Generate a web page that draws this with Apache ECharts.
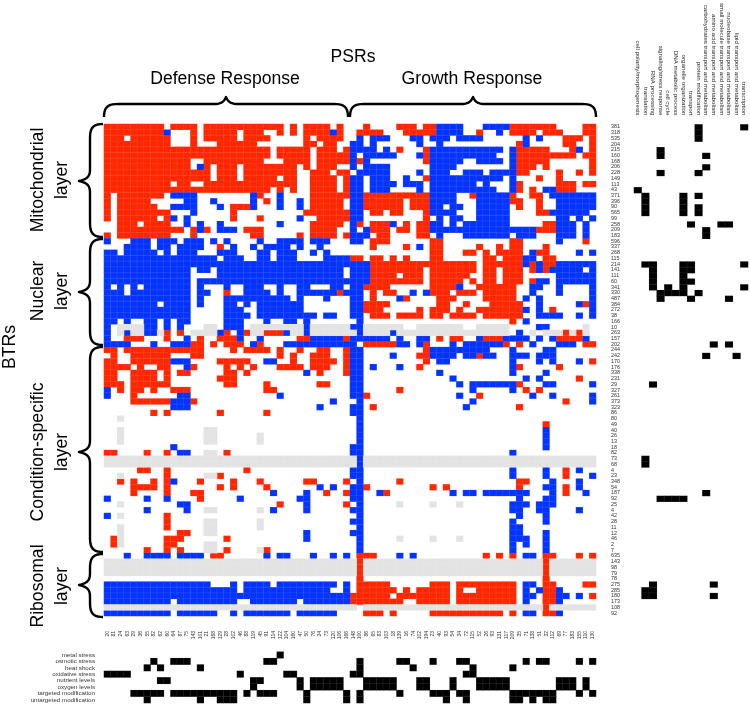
<!DOCTYPE html>
<html><head><meta charset="utf-8">
<style>html,body{margin:0;padding:0;background:#fff}#c{width:750px;height:705px}</style>
<script src="https://cdn.jsdelivr.net/npm/echarts@6/dist/echarts.min.js"></script></head>
<body><div id="c"></div>
<script>
const colLabels=["20","81","24","63","29","36","55","82","62","60","64","87","75","143","101","21","168","129","28","102","46","88","119","45","91","114","122","104","160","47","50","76","34","73","120","106","166","148",
"100","86","65","83","103","18","139","16","74","102","194","23","40","93","54","34","72","115","52","26","93","131","117","209","35","71","138","51","32","112","69","77","183","155","110","130"];
const rowLabels=["381","318","535","204","215","160","168","206","228","149","113","43","371","396","90","565","99","258","209","183","596","337","268","115","214","141","111","60","341","330","487","384","272","38","166","10","263","157","202","244","242","170","176","338","231","29","327","261","373","323","86","80","49","40","26","13","18","82","73","68","4","23","348","54","187","92","25","4","42","28","11","12","46","2","7","635","143","98","79","78","275","285","180","173","108","92"];
const stressLabels=["metal stress","osmotic stress","heat shock","oxidative stress","nutrient levels","oxygen levels","targeted modification","untargeted modification"];
const funcLabels=["cell polarity/morphogenesis","translation","RNA processing","signaling/stress response","cell cycle","DNA metabolic process","organelle organization","transport","protein modification","carbohydrates transport and metabolism","amino acid transport and metabolism","small molecule transport and metabolism","nucleobase transport and metabolism","lipid transport and metabolism","transcription"];
// main matrix, one string per row: R = red, B = blue, G = grey, then column index ranges
const mainRows=[
"R0-8 R10-13 R15-26 R28 R30-33 R35 R39 R44-46 R48-49 B50-53 B57-60 R61-67 R72-73",
"R0-8 B9 R13 R15-19 R21-23 R26 R28 R30-33 B34 R35 R38-41 R45-49 B50-53 R56 B59 R61-64 R66-68 R72-73",
"R0-2 R4-9 R13 R15-19 R21-24 R30 R32-35 B38 B40-42 B46-47 B49-51 B53-56 B63 B65 R69-71 R73",
"R0-9 R13 R17-22 R30-31 R33-34 B37-38 B40 B47 B50 R62 B63 R69-70 R73",
"R0-24 R26-30 R32-34 R36 B37-40 B42 R44 R48 B49-59 B61 R62-66 R70 B71 R73",
"R0-24 R26-30 R32-36 B37 B39-43 B47 R48 B49-58 B61 R62-70 R72-73",
"R0-12 R15-23 R27-30 R32-36 B37 R38 B39 R48 B49-53 B56-59 B61 R62-66 R73",
"R0-12 B14 R15 R17-19 R21-28 R30 R32-34 B37 B39-42 B49-52 B61 R62-64 R66 R73",
"R0-15 R17-19 R21-28 R31-33 R35-36 B38-42 B47 B49-51 B54-56 B58-61 R62-63 R68 R71 R73",
"R0-15 R17-19 R21-25 R27-28 R31-34 R36 B37-38 B40-42 B45 R48 B49-59 B61 R65 R68",
"R0-9 R11-12 R15-28 R31-34 R36 B37-38 B40-43 B45-47 B49-55 B57 B61 R62 R68-70 R72-73",
"R0-24 R26 R28 R31-34 R36 B37-38 B40-42 B47 B49-58 B61 R62 R64 B66-67 R68-70",
"R0 R2-8 B10-13 B22 R23 B26 R31-36 B37-38 R39-48 B49-52 R55 B56-60 R61 R64-65 B67-73",
"R0 R2-6 B12-13 B16 B22 R24 B26 B29 R31-35 B37-38 R39-44 R46-48 B49-52 B56-60 R61-62 R65 B68-73",
"R0 R2-7 B10-13 B17 R19-21 B22 B26 B29 R31-35 B37-38 R39-44 R46-48 B49-50 B52-53 B56-60 R62 R65 B68-73",
"R0 R2-9 B13 R19 R30-36 B37-38 R40-41 R43-44 R48 B49-52 B56-60 R65-66 B67-72",
"R0 R2-7 R9 B10 B12 R19 R23 B29 R32-36 B37-38 R48 B50 B52-53 B56-60 B68-69 B71 B73",
"R2-4 R6-9 B12 B14 B17 B26 R31-35 B37 R38 R40-42 B43 R45 R47-48 B49-50 B52 B54-60 R66-67 B68-70 B72",
"R2-11 R13 B14 R15 B17-19 R21-23 R31-34 B37 B39 R40-42 R44-45 R47-48 B49-64 R65-67 B68-70 B72",
"R0 R2-9 R13 R22-23 R29 R31-34 R36 B37-39 R41-42 R47-48 B50 B54-60 B62-64 B68-70 B72",
"B0 B4-6 B8-10 B12-14 B16 B18 B23 B26-29 B31-33 B37-38 R40-42 R49-50 R61-62 B68 R72",
"B3-6 B8-9 B11-14 R17 B19 B22 B24-27 B29 B32 R40 R45 B47 R49-50 R56 R59 R61-62 R66",
"B0-1 B3-7 B9 B11-13 B17-19 B23-24 B26-28 B31 B33 R49-50 R54-55 R57 R59-62 B64 R65-66 B71 B73",
"B0-16 B18-20 B23-24 B26-28 B33-36 R37-38 R40-41 R43 R45 R49-50 R57-58 R60-62 B63-64 R66-67",
"B0-39 R40-55 R57-62 B63 R64 B65 R66-67 B68-73",
"B0-12 B14-15 B17-35 B37-39 R40-47 R49-55 R57-58 R60-62 R64 B65 R66 B67-71 B73",
"B0-12 B17-35 B37-39 R40-43 R45-47 R49-54 R57-58 R60-62 B68-73",
"B0-12 B14-39 R40-47 R49-53 R55 R57-58 R60-62 R64 B65-66 B68-73",
"B0 B2 B4 B6-12 B14 B18 B21-23 B26 B29-30 B34-35 B37-38 R39-42 R49-52 B53 R56-61 B64-65 B68 B73",
"B0-2 B4-12 B14-15 R18 B21-24 B26 B29-34 R35 B36-38 R40 R42-43 B46 B48 R49-51 R53-55 R57-61 B64 B68 B73",
"B0-12 B14 B18-27 B29 B33 B37-38 R40 B44 R45 R50-52 R57-61 B63 B65 B73",
"B0-7 B9-12 B14 B18-19 B21 B23-29 B37-38 R39-42 R50-51 R54 R58-62 B65 B71 R72 B73",
"B0-12 B18-20 B23-29 B37-38 R39-41 R47 R49-51 R53 R56-62 B63 B65 R67 B73",
"B0-12 B18-21 B23-31 B33-34 B37-38 R40-42 R44-47 R49-50 R52-55 R57-62 B65-68 B71 B73",
"B0-1 B3 B6-7 B9 B11-12 B18-20 B24 B27-28 B30 B38 R61 B63",
"B0 G2-5 B6-7 B9 B11 G15-16 B18-20 G22-29 B30 G31-36 B37-38 G39-44 G47-53 G56-60 B65-66 G72",
"B0 G2 B3 G4-5 B6-7 G8 R9 R11 G13-16 B17 R18 B20 R21 G22-23 R24-26 B27 G28-29 B30 G31-37 B38 G39-42 B43 G44-60 B62 G64 G66-68 R69 G70 R71 G72",
"B0 R3-5 R9 B12 R14 R17-19 B20 B23 R29-30 B31-35 R36 B37-42 B44 B47-48 R50 R52-53 B56 R57-59 B60-63 B65 B67 R68-71 B72",
"B0-3 B7 B10-12 R13-14 R16 R18-20 B22 R23 B27-29 B30-37 R39-43 B44-45 B47 R48 B52 B54-59 R60 R62 B64 B68-70 R72-73",
"R0-1 R3-14 R19 R21-24 R26 R29 R32-33 R36 B37-38 R48 B49-57 B61 B66-67",
"R1 R4-9 R13-14 R26 R28 R31-33 R36 B37-38 B43 R47-48 B49-52 B54-55 R56 B57-58 B61-63 B65-67",
"R0-1 R4-9 B10-12 R17-21 B24-25 R28 R31-34 R36 B37-38 R48 B50-51 B61 B65 B67 B71 R73",
"R0-3 R5 R8-9 B12 R13 R18 R20 R22 R26-29 R31-33 R36 B37-38 B40 B44 R47 B61 R62 R68",
"R0-1 R4-7 R9 R11-12 R18-19 R21 B30 R32 R36 B37-38 B50 B61 B66",
"R0-1 R4-7 R9 R17-19 B37-38 B52 B63 B65 R71",
"R0-2 R4-9 R18-19 R24 R32-33 B37-38 B53 B55-61 R62 B66-67 B73",
"B0 R2 R4-5 R7 R10-12 R24-25 B37-38 R44 B55 B61 R63 R65",
"B0 R4 B11-12 B26 B37-38 R39 B53 R56 B64 B67 B73",
"R4-9 B10-12 R13 B34 B38 B55 R69 B73",
"B10-12 B32 B37-38 R40 B54 R62",
"R7 R9 R17 R24 B37-38",
"G2 B38",
"B38 R66",
"G2 G15-16 B38 B66",
"G2 G15-16 G23 B38 B66",
"G2 G15-16 G23 B38 B66",
"B10 B37-38 B66",
"R0-1 R6 R9 B11-12 G15-16 R18 B37-38 B61",
"G0-37 B38 G39-73",
"G0-37 B38 G39-73",
"R5-6 R9 R21 B37-38 B61 B66 R69 B71",
"G2 R9 G15-16 R17 B37-38 B61 B66 R69 B73",
"R2 R4 R7 R9 B10 R14 R19 R23 R30-31 R36 B38 R44 R62-63 B67 B71",
"R4-7 R9 R17 R19 R24 B32 B34 B37-38 R39 R49 R51 R62 B66-67 R69 B71",
"R4 R9 R13-14 B25 B30 R33 R36 B37-38 B41 R42 B52 B54-55 B57-63 B67 R69 B72",
"B0 B6 B9 R14 B20 B29-30 B37-38 B62 B66-67",
"G2 B11-12 R26 B30 R36 B38 G44 G49 G53 B61-63 B65-67",
"B6 B12 G15-16 G23 B25 B30 B37-38 B61-62 B65-66 B71",
"B0 G2 R9 B38 B62 B66",
"R9 G15-16 G23 B37-38 B61 B66",
"G2 R9 G15-16 G23 B38 B61-62",
"G2 R11-12 G15-16 B30 B37-38 B61-62 B66",
"R1 G2 R9-11 R18 B30 B38 G44 G49 G53 B61-63 B66",
"R1 G2 R9-10 G15-16 B38 B61 B63 B66",
"R6 R9 R11 G15-16 R18 G23 R24 B38 B61 B66",
"B3 B6-9 B11-14 R16-17 B24 B26-27 B31 B34 B36 R38-40 B44 B46 R57 R59 R61 B63-64 R66-67 R71 R73",
"G0-37 R38 G39-65 R66 G67-73",
"G0-37 R38 G39-65 R66 G67-73",
"G0-37 R38 G39-65 R66 G67-73",
"R38 R66",
"B0-15 B19 B21-24 B26-34 B36 R38-42 R49-51 R53-61 B63-64 R66-67 R72-73",
"B0-19 B21-33 B36 R38-43 R45 R47-51 R53 R56-61 B63 B65 R66-67 B68",
"B0-36 R37-42 R44-51 R53-61 B63-64 R66-67 B68-69 B71 R73",
"B0-9 B11-19 B22-28 B30-36 R37-44 R47-51 R53-61 B63 R66-67 B68",
"G0-37 G39-65 R66 G67-73",
"B0-9 B11-16 B19 B21-27 B29-34 R39-41 R43 R49-59 R61 B63-64 R66-67 B68"
];
// bottom panel: one list of column ranges per stress label
const stressCols=[
"26",
"7 10-12 24-25 38 44-45 49 53-54 63 65-66 71 73",
"6 8 14 38 46 55 61",
"0-3 20 27-28 37-38 54-55",
"8-9 22-23 29 31-35 39-43 47-48 52 56-60 68-70 72",
"22 29 31-35 39-43 47-48 52 56-60 68-70 72",
"4-8 10-19 21 23-25 30 36 38 44 49-51 53-54 61-67 71 73",
"6 14 17-19 30 36 38 51 54 61-62 64 66-67"
];
// right panel: [row, functional column ranges]
const funcRows=[[0,"8 14"],[1,"8"],[2,"8"],[4,"3"],[5,"3 9"],[7,"9"],[8,"3 8"],[11,"0"],[12,"1 6 8"],[13,"1 6"],[14,"1 6 8"],[15,"1 6 8"],[17,"7 11-12"],[18,"9"],[19,"9"],[24,"1-2 6-7 14"],[25,"2 6-7"],[26,"2 6"],[27,"2 6-7"],[28,"2 4 6 14"],[29,"3-6 8"],[30,"3 7 12"],[38,"10 12"],[40,"9 13"],[45,"2"],[58,"1"],[59,"1"],[64,"9"],[65,"3-6"],[80,"2 10"],[81,"1-2"],[82,"1-2 10"]];

const RED="#ff2600",BLUE="#0433ff",GREY="#e3e3e3";
function expand(spec){const o=[];spec.split(" ").filter(Boolean).forEach(t=>{const p=t.split("-").map(Number);for(let i=p[0];i<=(p.length>1?p[1]:p[0]);i++)o.push(i);});return o;}
const cells={R:[],B:[],G:[]};
mainRows.forEach((s,r)=>s.split(" ").forEach(t=>{expand(t.slice(1)).forEach(c=>cells[t[0]].push([c,r,1]));}));
const stressData=[];stressCols.forEach((s,r)=>expand(s).forEach(c=>stressData.push([c,r,1])));
const funcData=[];funcRows.forEach(([r,s])=>expand(s).forEach(c=>funcData.push([c,r,1])));

const F='"Liberation Sans",Arial,sans-serif';
const hide={axisLine:{show:false},axisTick:{show:false},splitLine:{show:false}};
function hm(name,data,color,g){return{name,type:"heatmap",data,xAxisIndex:g,yAxisIndex:g,silent:true,progressive:0,itemStyle:{color,borderColor:"rgba(255,255,255,0.16)",borderWidth:0.5},emphasis:{disabled:true}};}
function bez(p0,c1,c2,p3){const o=[];for(let i=1;i<=10;i++){const t=i/10,u=1-t;o.push([0,1].map(k=>u*u*u*p0[k]+3*u*u*t*c1[k]+3*u*t*t*c2[k]+t*t*t*p3[k]));}return o;}
// curly brace along an axis in (a = along, b = across) coordinates
function braceAB(a0,a1,am,bEnd,bBar,bTip){const d=bEnd>bBar?1:-1,r=14;return [[a0,bEnd]]
 .concat(bez([a0,bEnd],[a0,bBar+d*3],[a0+4,bBar],[a0+r,bBar]))
 .concat([[am-12,bBar]]).concat(bez([am-12,bBar],[am-5,bBar],[am-2,bBar-d*2],[am,bTip]))
 .concat(bez([am,bTip],[am+2,bBar-d*2],[am+5,bBar],[am+12,bBar]))
 .concat([[a1-r,bBar]]).concat(bez([a1-r,bBar],[a1-4,bBar],[a1,bBar+d*3],[a1,bEnd]));}
const brace=pts=>({type:"polyline",shape:{points:pts},style:{fill:null,stroke:"#000",lineWidth:2.4,lineJoin:"round"}});
const hB=(x0,x1,xm,yE,yB,yT)=>brace(braceAB(x0,x1,xm,yE,yB,yT));
const vB=(y0,y1,ym,xE,xB,xT)=>brace(braceAB(y0,y1,ym,xE,xB,xT).map(p=>[p[1],p[0]]));
const txt=(t,x,y,rot,size)=>({type:"text",x,y,rotation:rot?Math.PI/2:0,originX:0,originY:0,style:{text:t,x:0,y:0,fill:"#000",font:`${size||17.6}px ${F}`,align:"center",verticalAlign:"middle"}});

const chart=echarts.init(document.getElementById("c"),null,{renderer:"canvas"});
chart.setOption({
 animation:false,backgroundColor:"#fff",
 grid:[{left:104,top:124,width:492,height:492},{left:104,top:651.8,width:492,height:51.2},{left:634,top:124,width:114,height:492}],
 xAxis:[
  {gridIndex:0,type:"category",data:colLabels,position:"bottom",...hide,axisLabel:{interval:0,rotate:90,margin:15,fontSize:5,color:"#333",fontFamily:F,hideOverlap:false}},
  {gridIndex:1,type:"category",data:colLabels,show:false,...hide},
  {gridIndex:2,type:"category",data:funcLabels,position:"top",...hide,axisLabel:{interval:0,rotate:90,margin:9,fontSize:6.2,color:"#222",fontFamily:F,width:300,overflow:"none",hideOverlap:false}}
 ],
 yAxis:[
  {gridIndex:0,type:"category",data:rowLabels,inverse:true,position:"right",...hide,axisLabel:{interval:0,margin:15,fontSize:5.4,color:"#333",fontFamily:F,align:"left"}},
  {gridIndex:1,type:"category",data:stressLabels,inverse:true,position:"left",...hide,axisLabel:{interval:0,margin:9,fontSize:6.2,color:"#333",fontFamily:F,align:"right"}},
  {gridIndex:2,type:"category",data:rowLabels,inverse:true,show:false,...hide}
 ],
 series:[hm("red",cells.R,RED,0),hm("blue",cells.B,BLUE,0),hm("grey",cells.G,GREY,0),hm("stress",stressData,"#000",1),hm("function",funcData,"#000",2)],
 graphic:[
  txt("PSRs",353,57),txt("Defense Response",225,79),txt("Growth Response",472,79),
  txt("BTRs",10,347,true),
  txt("Mitochondrial",38,180,true),txt("layer",62,180,true),
  txt("Nuclear",38,291,true),txt("layer",62,291,true),
  txt("Condition-specific",38,452,true),txt("layer",62,452,true),
  txt("Ribosomal",38,586,true),txt("layer",62,586,true),
  hB(104,348,226,117,104,97),hB(350,596,473,117,104,97),
  vB(124,237,181,103,90,79),vB(239,345,292,103,90,79),vB(347,552,452,103,90,79),vB(554,617,585,103,90,79)
 ]
});
</script></body></html>
